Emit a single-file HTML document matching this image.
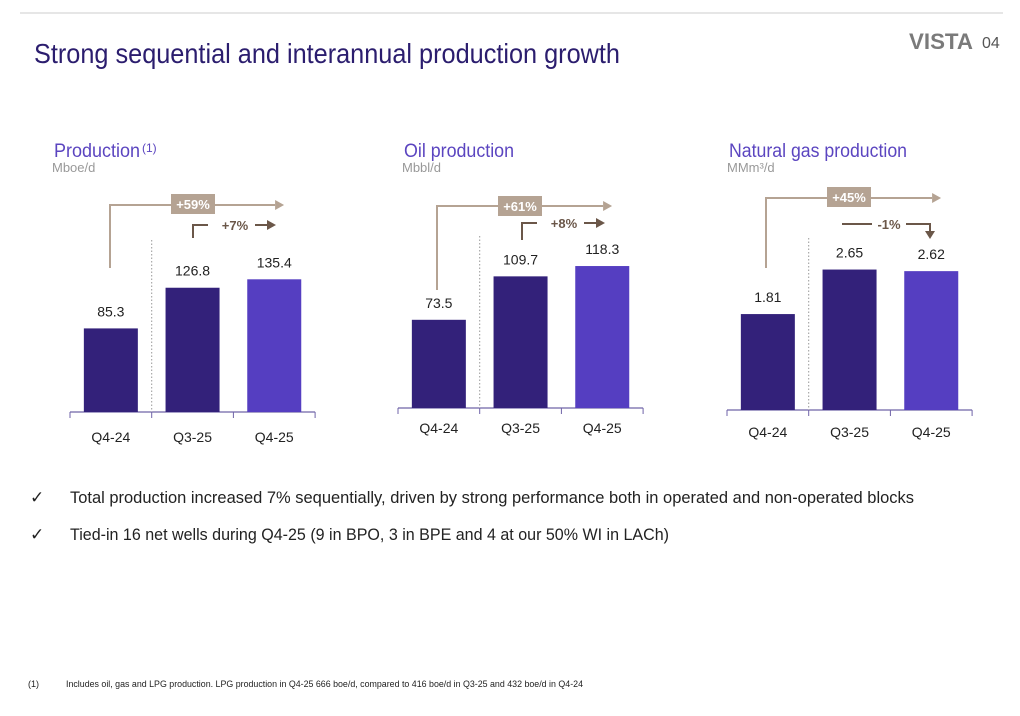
<!DOCTYPE html>
<html><head><meta charset="utf-8"><style>
body{margin:0;background:#fff;}
svg{display:block;font-family:"Liberation Sans Narrow","Liberation Sans",sans-serif;}
</style></head><body>
<svg id="s" width="1020" height="716" viewBox="0 0 1020 716">
<line x1="20" y1="13" x2="1003" y2="13" stroke="#e6e6e6" stroke-width="2"/>
<text x="34" y="63" font-size="28" fill="#2b1d6e" textLength="586" lengthAdjust="spacingAndGlyphs">Strong sequential and interannual production growth</text>
<text x="909" y="49" font-size="22" font-weight="bold" fill="#7a7a7a" font-family="Liberation Sans" textLength="64" lengthAdjust="spacingAndGlyphs">VISTA</text>
<text x="982" y="48" font-size="16" fill="#555">04</text>
<g id="charts"></g>
<text x="30" y="503" font-size="17" fill="#222">✓</text>
<text x="70" y="503" font-size="17" fill="#222" textLength="844" lengthAdjust="spacingAndGlyphs">Total production increased 7% sequentially, driven by strong performance both in operated and non-operated blocks</text>
<text x="30" y="540" font-size="17" fill="#222">✓</text>
<text x="70" y="540" font-size="17" fill="#222" textLength="599" lengthAdjust="spacingAndGlyphs">Tied-in 16 net wells during Q4-25 (9 in BPO, 3 in BPE and 4 at our 50% WI in LACh)</text>
<text x="28" y="687" font-size="9" fill="#222">(1)</text>
<text x="66" y="687" font-size="9" fill="#222" textLength="517" lengthAdjust="spacingAndGlyphs">Includes oil, gas and LPG production. LPG production in Q4-25 666 boe/d, compared to 416 boe/d in Q3-25 and 432 boe/d in Q4-24</text>
</svg>
<script>
const categories=["Q4-24","Q3-25","Q4-25"];
const totalValues=[85.3,126.8,135.4];
const oilValues=[73.5,109.7,118.3];
const gasValues=[1.81,2.65,2.62];
const totalLabels=["85.3","126.8","135.4"];
const oilLabels=["73.5","109.7","118.3"];
const gasLabels=["1.81","2.65","2.62"];
const titles=["Production","Oil production","Natural gas production"];
const units=["Mboe/d","Mbbl/d","MMm³/d"];
const yoy=["+59%","+61%","+45%"];
const qoq=["+7%","+8%","-1%"];

const NS="http://www.w3.org/2000/svg";
const root=document.getElementById('charts');
function mk(tag,attrs,parent,txt){const e=document.createElementNS(NS,tag);for(const k in attrs)e.setAttribute(k,attrs[k]);if(txt!==undefined)e.textContent=txt;(parent||root).appendChild(e);return e;}
const cfg=[
 {x0:70,base:412,scale:0.98,vals:totalValues,labs:totalLabels,labY:442,tx:54,tl:86,yo:{vx:110,vtop:205,vbot:268,box:171,by:194},qo:{x:193,top:225,bot:238}},
 {x0:398,base:408,scale:1.2,vals:oilValues,labs:oilLabels,labY:433,tx:404,tl:110,yo:{vx:437,vtop:206,vbot:290,box:498,by:196},qo:{x:522,top:223,bot:240}},
 {x0:727,base:410,scale:53,vals:gasValues,labs:gasLabels,labY:437,tx:729,tl:178,yo:{vx:766,vtop:198,vbot:268,box:827,by:187},qo:{down:true}}
];
const tan="#b5a393",brown="#6b5749";
cfg.forEach((c,i)=>{
 const g=mk('g',{});
 
 
 const t=mk('text',{x:c.tx,y:157,'font-size':19,fill:'#5b45c0',textLength:c.tl,lengthAdjust:'spacingAndGlyphs'},g,titles[i]);
 
 
 if(i===0){const sp=mk('text',{x:142,y:152,'font-size':12,fill:'#5b45c0'},g,'(1)');
  
  }
 const u=mk('text',{x:c.tx-2,y:172,'font-size':13,fill:'#999'},g,units[i]);
 
 
 const step=81.7;
 const ax=mk('line',{x1:c.x0,y1:c.base,x2:c.x0+3*step,y2:c.base,stroke:'#6f63a8','stroke-width':1.2},g);
 
 
 for(let k=0;k<=3;k++){const tk=mk('line',{x1:c.x0+k*step,y1:c.base,x2:c.x0+k*step,y2:c.base+6,stroke:'#6f63a8'},g);
  
  }
 const dl=mk('line',{x1:c.x0+step,y1:c.base-172,x2:c.x0+step,y2:c.base,stroke:'#999','stroke-dasharray':'1.5,2'},g);
 
 
 categories.forEach((cat,k)=>{
  const cx=c.x0+step*k+step/2;
  const h=c.vals[k]*c.scale;
  const b=mk('rect',{x:cx-27,y:c.base-h,width:54,height:h,fill:k===2?'#553ec1':'#33217a'},g);
  
  
  const v=mk('text',{x:cx,y:c.base-h-12,'font-size':14,fill:'#222','text-anchor':'middle','font-family':'Liberation Sans'},g,c.labs[k]);
  
  
  const l=mk('text',{x:cx,y:c.labY,'font-size':14,fill:'#222','text-anchor':'middle','font-family':'Liberation Sans'},g,cat);
  
  
 });
 const y=c.yo; const endX=c.x0+3*step-40;
 const yl=mk('polyline',{points:`${y.vx},${y.vbot} ${y.vx},${y.vtop} ${endX},${y.vtop}`,fill:'none',stroke:tan,'stroke-width':2},g);
 
 
 mk('polygon',{points:`${endX},${y.vtop-5} ${endX+9},${y.vtop} ${endX},${y.vtop+5}`,fill:tan},g);
 const bx=mk('rect',{x:y.box,y:y.by,width:44,height:20,fill:tan},g);
 
 
 mk('text',{x:y.box+22,y:y.by+15,'font-size':13,'font-weight':'bold',fill:'#fff','text-anchor':'middle','font-family':'Liberation Sans'},g,yoy[i]);
 const q=c.qo;
 let ql;
 if(!q.down){
  ql=mk('polyline',{points:`${q.x},${q.bot} ${q.x},${q.top} ${q.x+15},${q.top}`,fill:'none',stroke:brown,'stroke-width':2},g);
  mk('text',{x:q.x+42,y:q.top+5,'font-size':13,'font-weight':'bold',fill:brown,'text-anchor':'middle','font-family':'Liberation Sans'},g,qoq[i]);
  mk('line',{x1:q.x+62,y1:q.top,x2:q.x+75,y2:q.top,stroke:brown,'stroke-width':2},g);
  mk('polygon',{points:`${q.x+74},${q.top-5} ${q.x+83},${q.top} ${q.x+74},${q.top+5}`,fill:brown},g);
 } else {
  ql=mk('polyline',{points:`842,224 872,224`,fill:'none',stroke:brown,'stroke-width':2},g);
  mk('text',{x:889,y:229,'font-size':13,'font-weight':'bold',fill:brown,'text-anchor':'middle','font-family':'Liberation Sans'},g,qoq[i]);
  mk('polyline',{points:`906,224 930,224 930,232`,fill:'none',stroke:brown,'stroke-width':2},g);
  mk('polygon',{points:`925,231 935,231 930,239`,fill:brown},g);
 }
 
 
});
</script>
</body></html>
